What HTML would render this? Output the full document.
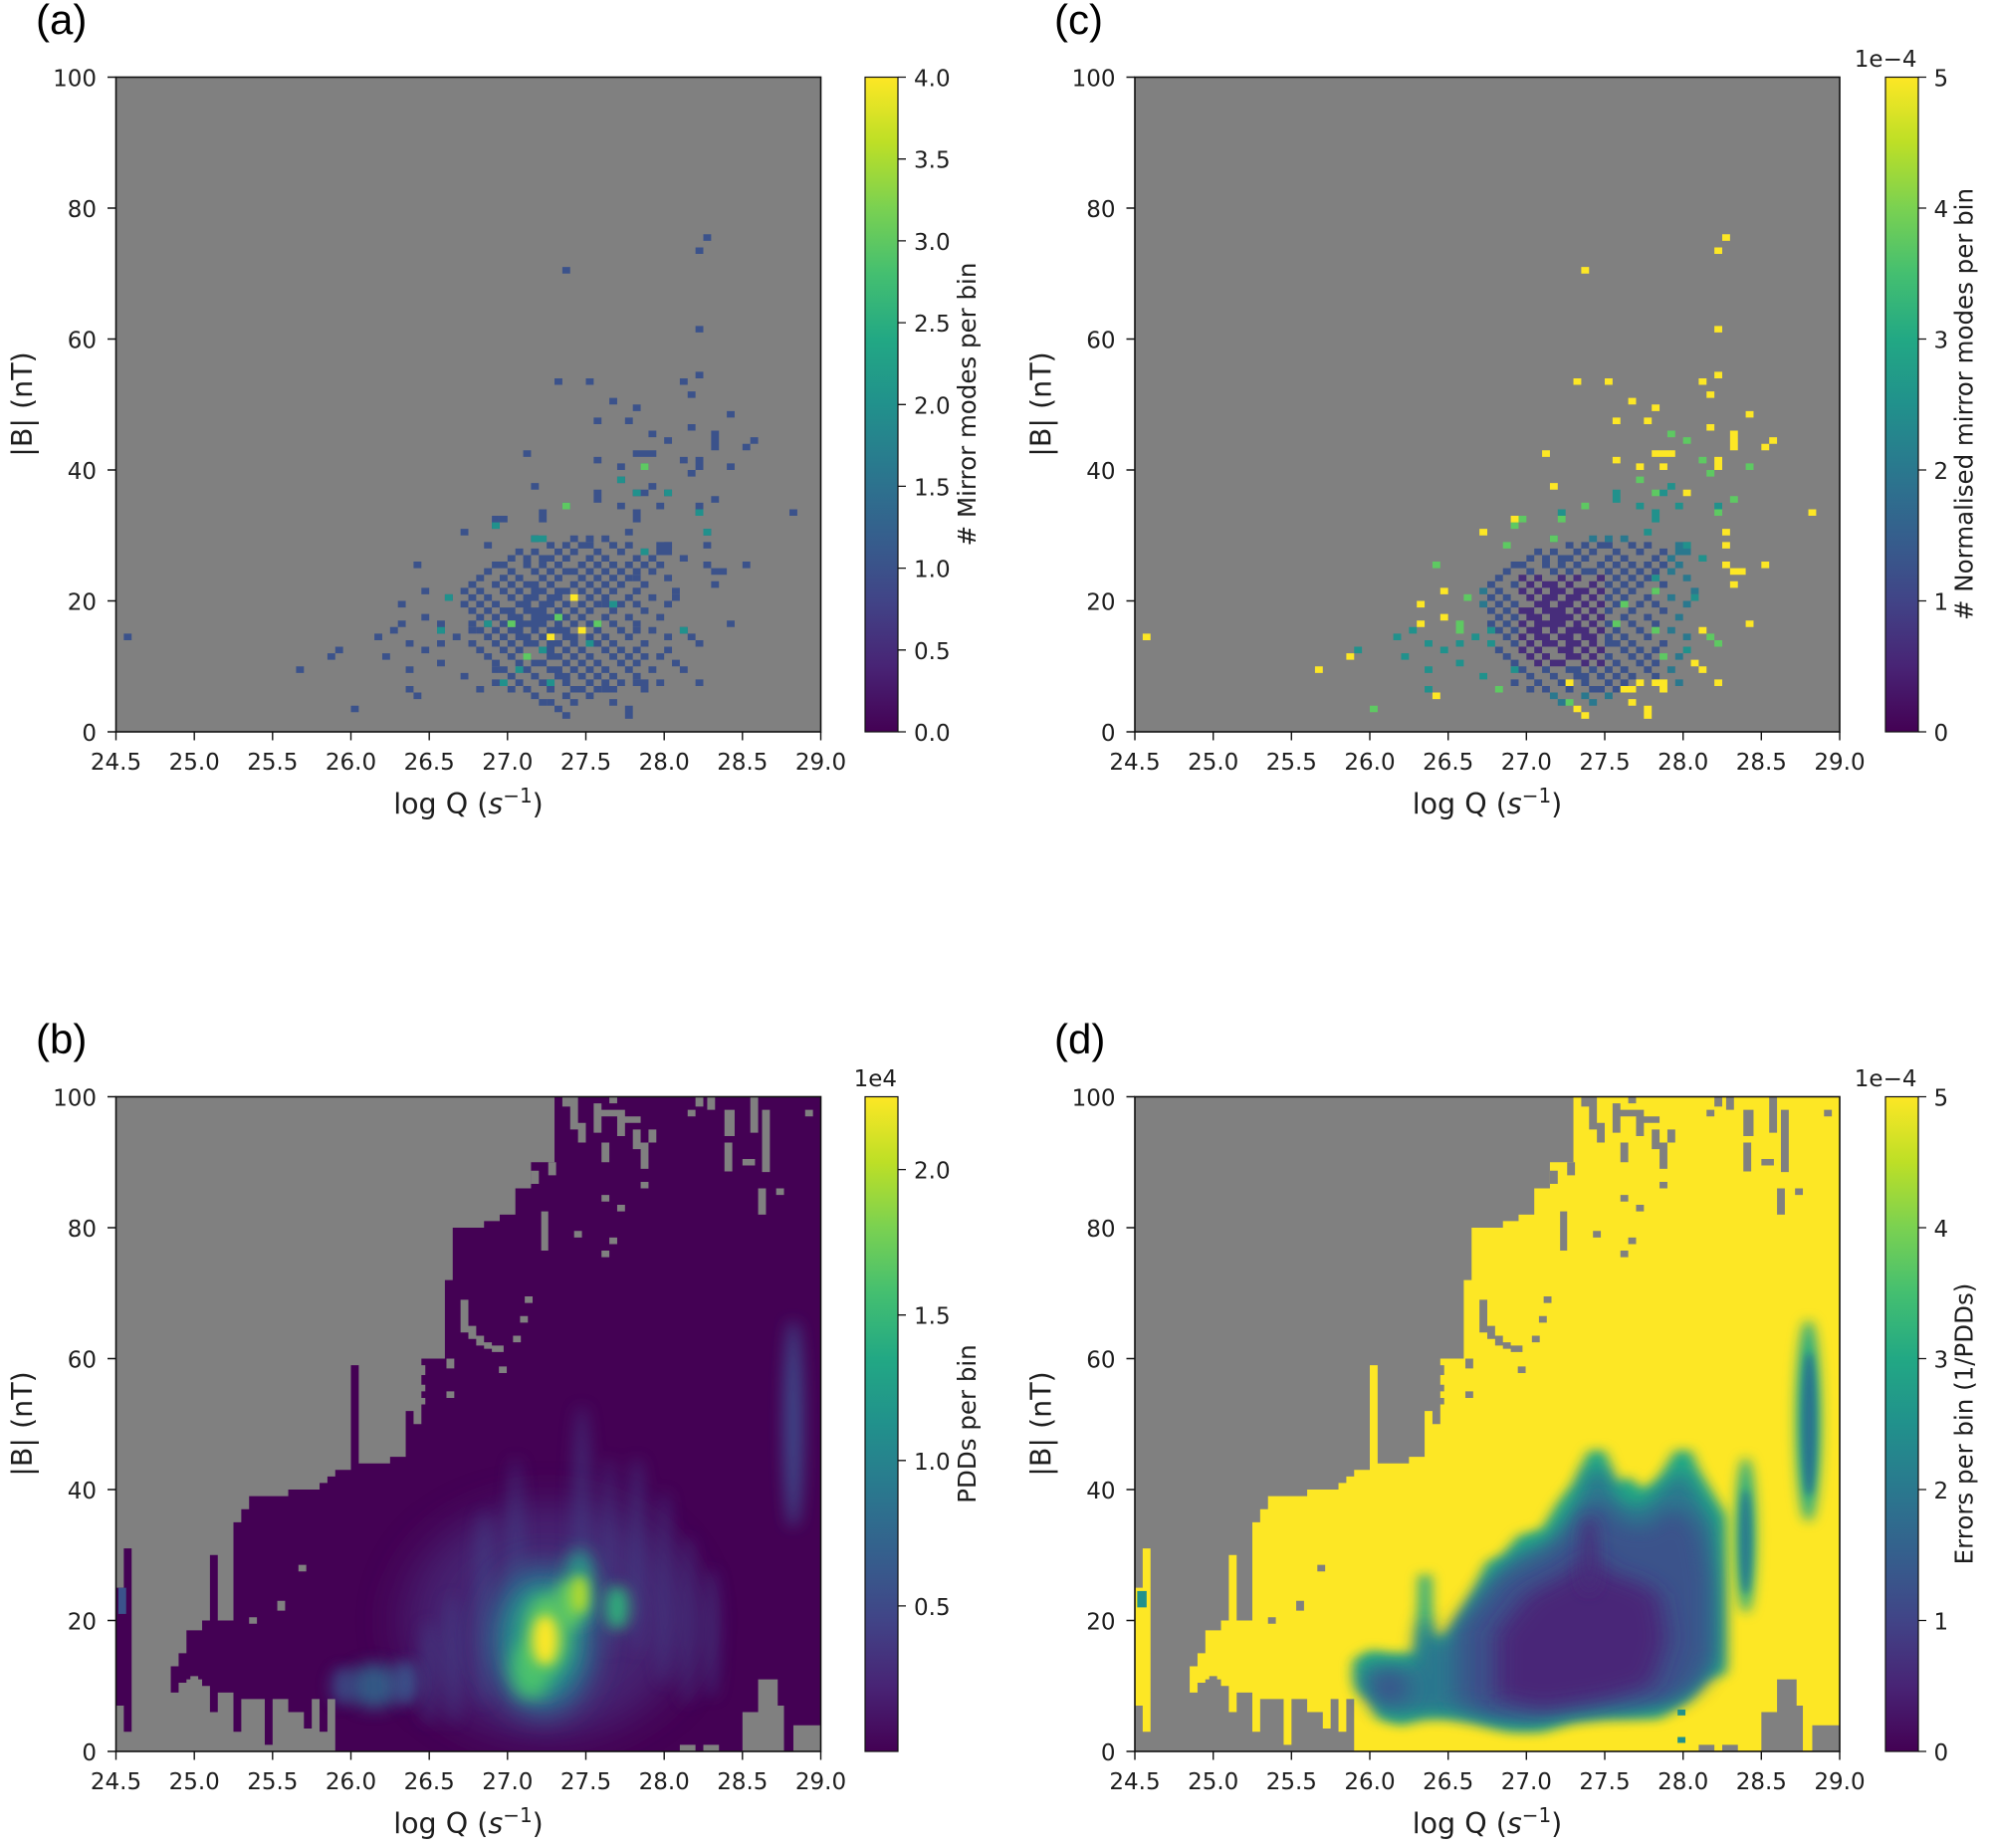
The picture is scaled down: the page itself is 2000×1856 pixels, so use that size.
<!DOCTYPE html>
<html><head><meta charset="utf-8"><style>html,body{margin:0;padding:0;background:#fff}svg{display:block}</style></head><body>
<svg xmlns="http://www.w3.org/2000/svg" width="2000" height="1856" viewBox="0 0 2000 1856" font-family="'DejaVu Sans','Liberation Sans',sans-serif" fill="#1e1e1e">
<defs>
<linearGradient id="vir" x1="0" y1="1" x2="0" y2="0">
<stop offset="0" stop-color="#440154"/><stop offset=".1" stop-color="#482475"/><stop offset=".2" stop-color="#414487"/><stop offset=".3" stop-color="#355f8d"/><stop offset=".4" stop-color="#2a788e"/><stop offset=".5" stop-color="#21918c"/><stop offset=".6" stop-color="#22a884"/><stop offset=".7" stop-color="#44bf70"/><stop offset=".8" stop-color="#7ad151"/><stop offset=".9" stop-color="#bddf26"/><stop offset="1" stop-color="#fde725"/>
</linearGradient>
<filter id="f3" filterUnits="userSpaceOnUse" x="-30" y="-30" width="150" height="160"><feGaussianBlur stdDeviation="3"/></filter>
<filter id="f2" filterUnits="userSpaceOnUse" x="-30" y="-30" width="150" height="160"><feGaussianBlur stdDeviation="2"/></filter>
<filter id="f15" filterUnits="userSpaceOnUse" x="-30" y="-30" width="150" height="160"><feGaussianBlur stdDeviation="1.5"/></filter>
<filter id="f12" filterUnits="userSpaceOnUse" x="-30" y="-30" width="150" height="160"><feGaussianBlur stdDeviation="1.2"/></filter>
<filter id="f1" filterUnits="userSpaceOnUse" x="-30" y="-30" width="150" height="160"><feGaussianBlur stdDeviation="1"/></filter>
<filter id="f08" filterUnits="userSpaceOnUse" x="-30" y="-30" width="150" height="160"><feGaussianBlur stdDeviation="0.8"/></filter>
<filter id="f05" filterUnits="userSpaceOnUse" x="-30" y="-30" width="150" height="160"><feGaussianBlur stdDeviation="0.5"/></filter>

<path id="mk" d="M0 7H1V25H0Z M1 3H2V31H1Z M7 9H8V13H7Z M8 10.5H9V15H8Z M9 11H11V18.5H9Z M11 10H12V20H11Z M12 6H13V30H12Z M13 9H15V20H13Z M15 3H16V35H15Z M16 8H17V37H16Z M17 8H19V39H17Z M19 1H20V39H19Z M20 8H22V39H20Z M22 6H24V40H22Z M24 3.5H25V40H24Z M25 8H26V40H25Z M26 3H27V41H26Z M27 8H28V42H27Z M28 0H30V43H28Z M30 0H31V59H30Z M31 0H35V44H31Z M35 0H37V45H35Z M37 0H38V52H37Z M38 0H39V50H38Z M39 0H42V60H39Z M42 0H43V72H42Z M43 0H47V80H43Z M47 0H49V81H47Z M49 0H51V82H49Z M51 0H53V86H51Z M53 0H56V90H53Z M56 0H90V100H56Z"/>
<path id="hl" d="M72 0h2v1h-2z M75 0h2v1h-2z M80 0h2v6h-2z M82 0h2.5v11h-2.5z M84.5 0h0.8v7h-0.8z M86.5 0h3.5v4h-3.5z M57 98.5h1v1.5h-1z M58 95h1v5h-1z M59 93h1v3h-1z M61 94.5h1v4.5h-1z M62 97h2v1h-2z M63 99h1v1h-1z M64 94h1v4h-1z M65 96h2v1h-2z M66 92h1v3h-1z M67 89h1v4h-1z M68 93h1v2h-1z M62 90h1v3h-1z M67 86h1v1h-1z M62 84h1v1h-1z M64 82.5h1v1h-1z M58.5 78.5h1v1h-1z M63 77.5h1v1h-1z M62 75.5h1v1h-1z M54.3 76.5h0.9v6h-0.9z M55.2 88h1v2h-1z M53 86.7h1v2h-1z M46.8 85.5h1v1h-1z M74 98.5h1v1.5h-1z M75.5 98h1v2h-1z M77.7 94h1.3v4h-1.3z M81 94.5h1v5.5h-1z M82.5 88.5h1v9.5h-1z M77.7 88.6h1v4.4h-1z M80 89.5h1.6v1h-1.6z M82 82h1v4h-1z M73 97h1v1h-1z M88 97h1v1h-1z M84.3 85h1v1h-1z M44 64h1v5h-1z M45 63h1v2h-1z M46 62h1v1.5h-1z M47 61.5h1v1h-1z M48 61h1.5v1h-1.5z M48.9 57.8h1v1h-1z M50.7 62.5h1v1h-1z M51.6 65.5h1v1h-1z M52.2 68.5h1v1h-1z M38.5 55h1v1h-1z M38.5 57.5h1v1.5h-1z M38.5 53h1v1h-1z M42.2 54h1v1h-1z M42.2 58.5h1v1.5h-1z M23.3 27.5h1v1h-1z M20.6 21.5h1v1.5h-1z M17 19.5h1v1h-1z M9.5 10.5h1v1h-1z"/>
<clipPath id="cmk"><use href="#mk"/></clipPath>

<path id="dY" d="M75 75h1v1h-1zM74 73h1v1h-1zM57 70h1v1h-1zM74 61h1v1h-1zM74 54h1v1h-1zM56 53h1v1h-1zM60 53h1v1h-1zM72 53h1v1h-1zM73 51h1v1h-1zM63 50h1v1h-1zM66 49h1v1h-1zM78 48h1v1h-1zM61 47h1v1h-1zM65 47h1v1h-1zM73 46h1v1h-1zM76 43h1v3h-1zM81 44h1v1h-1zM80 43h1v1h-1zM52 42h1v1h-1zM66 42h3v1h-3zM61 41h1v1h-1zM74 40h1v2h-1zM64 40h1v1h-1zM67 40h1v1h-1zM53 37h1v1h-1zM70 36h1v1h-1zM86 33h1v1h-1zM48 32h1v1h-1zM44 30h1v1h-1zM75 30h1v1h-1zM75 28h1v1h-1zM75 25h1v1h-1zM76 24h2v1h-2zM80 25h1v1h-1zM76 22h1v1h-1zM39 21h1v1h-1zM36 19h1v1h-1zM39 17h1v1h-1zM36 16h1v1h-1zM78 16h1v1h-1zM1 14h1v1h-1zM27 11h1v1h-1zM23 9h1v1h-1zM72 15h1v1h-1zM71 10h1v1h-1zM72 9h1v1h-1zM74 7h1v1h-1zM55 7h1v1h-1zM64 7h1v1h-1zM62 6h2v1h-2zM66 7h2v1h-2zM67 6h1v1h-1zM38 5h1v1h-1zM56 3h1v1h-1zM57 2h1v1h-1zM65 2h1v2h-1zM63 4h1v1h-1z"/>
<path id="dG" d="M38 25h1v1h-1zM49 32h1v1h-1zM48 31h1v1h-1zM54 32h1v1h-1zM57 34h1v1h-1zM66 36h1v1h-1zM64 38h1v1h-1zM68 45h1v1h-1zM70 44h1v1h-1zM72 41h1v1h-1zM73 39h1v1h-1zM78 40h1v1h-1zM76 35h1v1h-1zM74 33h1v1h-1zM53 29h1v1h-1zM47 28h1v1h-1zM42 20h1v1h-1zM41 15h1v2h-1zM66 21h1v1h-1zM62 19h1v1h-1zM61 16h1v1h-1zM66 15h1v1h-1zM73 14h1v1h-1zM74 13h1v1h-1zM67 11h1v1h-1zM46 6h1v1h-1zM55 4h1v1h-1zM30 3h1v1h-1z"/>
<path id="dT" d="M61 35h1v2h-1zM67 36h1v1h-1zM68 37h1v1h-1zM69 34h1v1h-1zM66 32h1v2h-1zM74 34h1v1h-1zM64 34h1v1h-1zM54 33h1v1h-1zM37 13h1v1h-1zM39 12h1v1h-1zM41 13h1v1h-1zM43 14h1v1h-1zM45 13h1v1h-1zM41 10h1v1h-1zM37 9h1v1h-1zM33 14h1v1h-1zM28 12h1v1h-1zM37 6h1v1h-1zM45 15h1v1h-1zM66 23h1v1h-1zM70 28h1v1h-1zM72 26h1v1h-1zM44 8h1v1h-1zM48 9h1v1h-1zM70 12h1v1h-1zM71 20h1v1h-1zM35 15h1v1h-1zM34 11h1v1h-1zM65 30h1v1h-1z"/>
<path id="dTc" d="M53 29h1v1h-1zM58 29h1v1h-1zM60 29h1v1h-1zM62 29h1v1h-1zM69 27h2v2h-2zM68 26h1v1h-1zM72 26h1v1h-1zM69 25h1v1h-1zM68 24h1v1h-1zM70 23h1v1h-1zM44 21h1v1h-1zM71 21h1v1h-1zM68 20h1v1h-1zM44 19h1v1h-1zM70 19h1v1h-1zM69 17h1v1h-1zM68 15h1v1h-1zM70 14h1v1h-1zM69 11h1v1h-1zM68 9h1v1h-1zM69 7h1v1h-1zM53 5h1v1h-1zM57 5h1v1h-1zM60 5h1v1h-1zM54 4h1v1h-1zM58 4h1v1h-1z"/>
<path id="dB" d="M55 28h1v1h-1zM57 28h1v1h-1zM59 28h2v1h-2zM63 28h1v1h-1zM65 28h1v1h-1zM51 27h1v1h-1zM53 27h1v1h-1zM56 27h1v1h-1zM58 27h1v1h-1zM61 27h1v1h-1zM64 27h1v1h-1zM67 27h1v1h-1zM50 26h1v1h-1zM52 26h1v1h-1zM54 26h2v1h-2zM57 26h1v1h-1zM60 26h1v1h-1zM62 26h1v1h-1zM66 26h1v1h-1zM48 25h2v1h-2zM52 25h1v1h-1zM54 25h1v1h-1zM56 25h1v1h-1zM59 25h1v1h-1zM61 25h1v1h-1zM63 25h1v1h-1zM65 25h1v1h-1zM67 25h1v1h-1zM47 24h1v1h-1zM50 24h1v1h-1zM53 24h1v1h-1zM55 24h1v1h-1zM57 24h2v1h-2zM60 24h1v1h-1zM62 24h1v1h-1zM64 24h1v1h-1zM66 24h1v1h-1zM46 23h1v1h-1zM61 23h1v1h-1zM63 23h1v1h-1zM65 23h1v1h-1zM45 22h1v1h-1zM48 22h1v1h-1zM60 22h1v1h-1zM62 22h1v1h-1zM64 22h1v1h-1zM67 22h1v1h-1zM46 21h1v1h-1zM61 21h1v1h-1zM63 21h1v1h-1zM66 21h1v1h-1zM45 20h1v1h-1zM47 20h1v1h-1zM60 20h1v1h-1zM62 20h1v1h-1zM65 20h1v1h-1zM46 19h1v1h-1zM48 19h1v1h-1zM61 19h1v1h-1zM64 19h1v1h-1zM66 19h1v1h-1zM45 18h1v1h-1zM47 18h1v1h-1zM60 18h1v1h-1zM63 18h1v1h-1zM67 18h1v1h-1zM46 17h1v1h-1zM48 17h1v1h-1zM62 17h1v1h-1zM65 17h1v1h-1zM45 16h1v1h-1zM47 16h1v1h-1zM60 16h1v1h-1zM63 16h1v1h-1zM66 16h1v1h-1zM46 15h1v1h-1zM48 15h1v1h-1zM61 15h1v1h-1zM64 15h1v1h-1zM47 14h1v1h-1zM60 14h1v1h-1zM62 14h1v1h-1zM65 14h1v1h-1zM48 13h1v1h-1zM60 13h2v1h-2zM63 13h1v1h-1zM67 13h1v1h-1zM46 12h1v1h-1zM62 12h1v1h-1zM64 12h1v1h-1zM66 12h1v1h-1zM47 11h1v1h-1zM60 11h1v1h-1zM63 11h1v1h-1zM65 11h1v1h-1zM48 10h1v1h-1zM61 10h1v1h-1zM64 10h1v1h-1zM66 10h1v1h-1zM49 9h1v1h-1zM52 9h1v1h-1zM55 9h2v1h-2zM58 9h1v1h-1zM60 9h1v1h-1zM62 9h1v1h-1zM65 9h1v1h-1zM50 8h1v1h-1zM53 8h1v1h-1zM56 8h2v1h-2zM59 8h1v1h-1zM61 8h1v1h-1zM63 8h1v1h-1zM66 8h1v1h-1zM48 7h1v1h-1zM51 7h1v1h-1zM54 7h1v1h-1zM57 7h1v1h-1zM60 7h1v1h-1zM62 7h1v1h-1zM50 6h1v1h-1zM52 6h1v1h-1zM55 6h1v1h-1zM58 6h2v1h-2zM61 6h1v1h-1z"/>
<path id="dP" d="M49 23h1v1h-1zM51 23h1v1h-1zM54 23h1v1h-1zM56 23h1v1h-1zM59 23h1v1h-1zM50 22h1v1h-1zM52 22h2v1h-2zM55 22h1v1h-1zM58 22h1v1h-1zM49 21h1v1h-1zM51 21h1v1h-1zM53 21h2v1h-2zM56 21h2v1h-2zM59 21h1v1h-1zM50 20h1v1h-1zM52 20h2v1h-2zM55 20h2v1h-2zM58 20h1v1h-1zM51 19h2v1h-2zM54 19h2v1h-2zM57 19h1v1h-1zM59 19h1v1h-1zM49 18h2v1h-2zM52 18h3v1h-3zM56 18h1v1h-1zM58 18h1v1h-1zM50 17h2v1h-2zM53 17h3v1h-3zM57 17h1v1h-1zM59 17h1v1h-1zM49 16h1v1h-1zM51 16h4v1h-4zM56 16h1v1h-1zM58 16h1v1h-1zM50 15h2v1h-2zM53 15h1v1h-1zM55 15h3v1h-3zM59 15h1v1h-1zM49 14h1v1h-1zM51 14h2v1h-2zM54 14h2v1h-2zM57 14h2v1h-2zM50 13h1v1h-1zM52 13h2v1h-2zM55 13h2v1h-2zM58 13h1v1h-1zM49 12h1v1h-1zM51 12h1v1h-1zM54 12h2v1h-2zM57 12h1v1h-1zM59 12h1v1h-1zM50 11h1v1h-1zM52 11h1v1h-1zM55 11h2v1h-2zM58 11h1v1h-1zM51 10h1v1h-1zM53 10h2v1h-2zM57 10h1v1h-1zM59 10h1v1h-1z"/>
<path id="aY" d="M58 20h1v1h-1zM55 14h1v1h-1zM59 15h1v1h-1z"/>
<path id="aG" d="M67 40h1v1h-1zM52 11h1v1h-1zM56 17h1v1h-1zM61 16h1v1h-1zM57 34h1v1h-1zM50 16h1v1h-1z"/>
<path id="aT" d="M51 9h1v1h-1zM55 7h1v1h-1zM63 19h1v1h-1zM54 29h1v1h-1zM60 13h1v1h-1zM72 15h1v1h-1zM75 30h1v1h-1zM70 36h1v1h-1zM67 27h1v1h-1zM47 16h1v1h-1zM49 7h1v1h-1zM54 12h1v1h-1zM66 36h1v1h-1zM64 38h1v1h-1zM42 20h1v1h-1zM41 15h1v1h-1zM53 29h1v1h-1zM74 33h1v1h-1zM48 31h1v1h-1z"/>
</defs>

<rect width="2000" height="1856" fill="#ffffff"/>

<g font-family="'Liberation Sans',sans-serif" font-size="42" fill="#000">
<text x="36" y="34">(a)</text>
<text x="36" y="1058">(b)</text>
<text x="1059" y="34">(c)</text>
<text x="1059" y="1058">(d)</text>
</g>

<!-- ===== PANEL A ===== -->
<g>
<rect x="116.5" y="77.5" width="708" height="657.5" fill="#808080"/>
<svg x="116.5" y="77.5" width="708" height="657.5" viewBox="0 0 90 100" preserveAspectRatio="none"><g transform="matrix(1 0 0 -1 0 100)">
<g fill="#3b528b"><use href="#dY"/><use href="#dG"/><use href="#dT"/><use href="#dTc"/><use href="#dB"/><use href="#dP"/></g>
<use href="#aT" fill="#21918c"/><use href="#aG" fill="#5ec962"/><use href="#aY" fill="#fde725"/>
</g></svg>
<rect x="116.5" y="77.5" width="708" height="657.5" fill="none" stroke="#111" stroke-width="1.6"/>
<path d="M116.5 735v8.5M195.2 735v8.5M273.8 735v8.5M352.5 735v8.5M431.2 735v8.5M509.8 735v8.5M588.5 735v8.5M667.2 735v8.5M745.8 735v8.5M824.5 735v8.5M116.5 735h-8.5M116.5 603.5h-8.5M116.5 472h-8.5M116.5 340.5h-8.5M116.5 209h-8.5M116.5 77.5h-8.5" stroke="#111" stroke-width="1.4"/>
<g font-size="23" text-anchor="middle"><text x="116.5" y="773">24.5</text><text x="195.2" y="773">25.0</text><text x="273.8" y="773">25.5</text><text x="352.5" y="773">26.0</text><text x="431.2" y="773">26.5</text><text x="509.8" y="773">27.0</text><text x="588.5" y="773">27.5</text><text x="667.2" y="773">28.0</text><text x="745.8" y="773">28.5</text><text x="824.5" y="773">29.0</text></g>
<g font-size="23" text-anchor="end"><text x="97" y="744">0</text><text x="97" y="612.5">20</text><text x="97" y="481">40</text><text x="97" y="349.5">60</text><text x="97" y="218">80</text><text x="97" y="86.5">100</text></g>
<text x="470.5" y="817" font-size="28.5" text-anchor="middle">log Q (<tspan font-style="italic">s</tspan><tspan dy="-11" font-size="20">−1</tspan><tspan dy="11">)</tspan></text>
<text transform="translate(32 406) rotate(-90)" text-anchor="middle" font-size="28.5">|B| (nT)</text>
<rect x="869" y="77.5" width="33" height="657.5" fill="url(#vir)" stroke="#111" stroke-width="1.2"/>
<path d="M902 735h8M902 652.8h8M902 570.6h8M902 488.4h8M902 406.3h8M902 324.1h8M902 241.9h8M902 159.7h8M902 77.5h8" stroke="#111" stroke-width="1.3"/>
<g font-size="23"><text x="918" y="744">0.0</text><text x="918" y="661.8">0.5</text><text x="918" y="579.6">1.0</text><text x="918" y="497.4">1.5</text><text x="918" y="415.3">2.0</text><text x="918" y="333.1">2.5</text><text x="918" y="250.9">3.0</text><text x="918" y="168.7">3.5</text><text x="918" y="86.5">4.0</text></g>
<text transform="translate(980 406) rotate(-90)" text-anchor="middle" font-size="24.5"># Mirror modes per bin</text>
</g>

<!-- ===== PANEL B ===== -->
<g transform="translate(0 1024)">
<rect x="116.5" y="77.5" width="708" height="657.5" fill="#808080"/>
<svg x="116.5" y="77.5" width="708" height="657.5" viewBox="0 0 90 100" preserveAspectRatio="none"><g transform="matrix(1 0 0 -1 0 100)">
<use href="#mk" fill="#440154"/>
<g clip-path="url(#cmk)">
<ellipse cx="55" cy="20" rx="18" ry="18" fill="#46307e" opacity=".7" filter="url(#f3)"/>
<g fill="#3f4788" opacity=".55" filter="url(#f1)">
<ellipse cx="40" cy="12" rx="1" ry="8"/>
<ellipse cx="43" cy="14" rx="1" ry="10"/>
<ellipse cx="47" cy="22" rx="1.2" ry="15"/>
<ellipse cx="51" cy="28" rx="1" ry="17"/>
<ellipse cx="59.5" cy="35" rx="1.2" ry="18"/>
<ellipse cx="63" cy="30" rx="1" ry="15"/>
<ellipse cx="66.5" cy="30" rx="1.2" ry="15"/>
<ellipse cx="70" cy="25" rx="1" ry="15"/>
<ellipse cx="73" cy="20" rx="1" ry="13"/>
<ellipse cx="76" cy="18" rx="1" ry="10"/>
</g>
<ellipse cx="33" cy="10" rx="3.5" ry="3.5" fill="#31688e" opacity=".85" filter="url(#f12)"/>
<ellipse cx="29" cy="10" rx="1.5" ry="3" fill="#3b528b" opacity=".8" filter="url(#f1)"/>
<ellipse cx="37" cy="10.5" rx="1.5" ry="3.5" fill="#3b528b" filter="url(#f1)"/>
<ellipse cx="86.5" cy="50" rx="1.2" ry="16" fill="#3e4c8a" filter="url(#f1)"/>
<ellipse cx="54.5" cy="17" rx="7" ry="12" fill="#33638d" filter="url(#f2)"/>
<ellipse cx="54.5" cy="17" rx="4.8" ry="8.5" fill="#21918c" filter="url(#f15)"/>
<ellipse cx="59.2" cy="25" rx="2" ry="6" fill="#2a9a89" filter="url(#f12)"/>
<ellipse cx="64" cy="22" rx="1.5" ry="3.5" fill="#2fb47c" filter="url(#f1)"/>
<ellipse cx="53" cy="12.5" rx="2.5" ry="4.5" fill="#4ac16d" filter="url(#f12)"/>
<ellipse cx="55" cy="18" rx="2.8" ry="6" fill="#5ec962" filter="url(#f12)"/>
<ellipse cx="57.8" cy="22.5" rx="1.8" ry="3.8" fill="#5ec962" filter="url(#f1)"/>
<ellipse cx="59.2" cy="24" rx="1" ry="3" fill="#bddf26" filter="url(#f08)"/>
<ellipse cx="54.8" cy="17" rx="1.6" ry="3.8" fill="#fde725" filter="url(#f08)"/>
<rect x="0.3" y="21" width="1" height="4" fill="#3b528b"/>
</g>
<use href="#hl" fill="#808080"/>
</g></svg>
<rect x="116.5" y="77.5" width="708" height="657.5" fill="none" stroke="#111" stroke-width="1.6"/>
<path d="M116.5 735v8.5M195.2 735v8.5M273.8 735v8.5M352.5 735v8.5M431.2 735v8.5M509.8 735v8.5M588.5 735v8.5M667.2 735v8.5M745.8 735v8.5M824.5 735v8.5M116.5 735h-8.5M116.5 603.5h-8.5M116.5 472h-8.5M116.5 340.5h-8.5M116.5 209h-8.5M116.5 77.5h-8.5" stroke="#111" stroke-width="1.4"/>
<g font-size="23" text-anchor="middle"><text x="116.5" y="773">24.5</text><text x="195.2" y="773">25.0</text><text x="273.8" y="773">25.5</text><text x="352.5" y="773">26.0</text><text x="431.2" y="773">26.5</text><text x="509.8" y="773">27.0</text><text x="588.5" y="773">27.5</text><text x="667.2" y="773">28.0</text><text x="745.8" y="773">28.5</text><text x="824.5" y="773">29.0</text></g>
<g font-size="23" text-anchor="end"><text x="97" y="744">0</text><text x="97" y="612.5">20</text><text x="97" y="481">40</text><text x="97" y="349.5">60</text><text x="97" y="218">80</text><text x="97" y="86.5">100</text></g>
<text x="470.5" y="817" font-size="28.5" text-anchor="middle">log Q (<tspan font-style="italic">s</tspan><tspan dy="-11" font-size="20">−1</tspan><tspan dy="11">)</tspan></text>
<text transform="translate(32 406) rotate(-90)" text-anchor="middle" font-size="28.5">|B| (nT)</text>
<rect x="869" y="77.5" width="33" height="657.5" fill="url(#vir)" stroke="#111" stroke-width="1.2"/>
<path d="M902 588.9h8M902 442.8h8M902 296.7h8M902 150.6h8" stroke="#111" stroke-width="1.3"/>
<g font-size="23"><text x="918" y="597.9">0.5</text><text x="918" y="451.8">1.0</text><text x="918" y="305.7">1.5</text><text x="918" y="159.6">2.0</text></g>
<text x="901" y="67" font-size="23" text-anchor="end">1e4</text>
<text transform="translate(980 406) rotate(-90)" text-anchor="middle" font-size="24.5">PDDs per bin</text>
</g>

<!-- ===== PANEL C ===== -->
<g transform="translate(1023.5 0)">
<rect x="116.5" y="77.5" width="708" height="657.5" fill="#808080"/>
<svg x="116.5" y="77.5" width="708" height="657.5" viewBox="0 0 90 100" preserveAspectRatio="none"><g transform="matrix(1 0 0 -1 0 100)">
<use href="#dP" fill="#472d7b"/>
<use href="#dB" fill="#3b528b"/>
<use href="#dTc" fill="#2a788e"/>
<use href="#dT" fill="#21918c"/>
<use href="#dG" fill="#5ec962"/>
<use href="#dY" fill="#fde725"/>
</g></svg>
<rect x="116.5" y="77.5" width="708" height="657.5" fill="none" stroke="#111" stroke-width="1.6"/>
<path d="M116.5 735v8.5M195.2 735v8.5M273.8 735v8.5M352.5 735v8.5M431.2 735v8.5M509.8 735v8.5M588.5 735v8.5M667.2 735v8.5M745.8 735v8.5M824.5 735v8.5M116.5 735h-8.5M116.5 603.5h-8.5M116.5 472h-8.5M116.5 340.5h-8.5M116.5 209h-8.5M116.5 77.5h-8.5" stroke="#111" stroke-width="1.4"/>
<g font-size="23" text-anchor="middle"><text x="116.5" y="773">24.5</text><text x="195.2" y="773">25.0</text><text x="273.8" y="773">25.5</text><text x="352.5" y="773">26.0</text><text x="431.2" y="773">26.5</text><text x="509.8" y="773">27.0</text><text x="588.5" y="773">27.5</text><text x="667.2" y="773">28.0</text><text x="745.8" y="773">28.5</text><text x="824.5" y="773">29.0</text></g>
<g font-size="23" text-anchor="end"><text x="97" y="744">0</text><text x="97" y="612.5">20</text><text x="97" y="481">40</text><text x="97" y="349.5">60</text><text x="97" y="218">80</text><text x="97" y="86.5">100</text></g>
<text x="470.5" y="817" font-size="28.5" text-anchor="middle">log Q (<tspan font-style="italic">s</tspan><tspan dy="-11" font-size="20">−1</tspan><tspan dy="11">)</tspan></text>
<text transform="translate(32 406) rotate(-90)" text-anchor="middle" font-size="28.5">|B| (nT)</text>
<rect x="870.5" y="77.5" width="33" height="657.5" fill="url(#vir)" stroke="#111" stroke-width="1.2"/>
<path d="M903.5 735h8M903.5 603.5h8M903.5 472h8M903.5 340.5h8M903.5 209h8M903.5 77.5h8" stroke="#111" stroke-width="1.3"/>
<g font-size="23"><text x="919" y="744">0</text><text x="919" y="612.5">1</text><text x="919" y="481">2</text><text x="919" y="349.5">3</text><text x="919" y="218">4</text><text x="919" y="86.5">5</text></g>
<text x="902" y="67" font-size="23" text-anchor="end">1e−4</text>
<text transform="translate(958 406) rotate(-90)" text-anchor="middle" font-size="24.5"># Normalised mirror modes per bin</text>
</g>

<!-- ===== PANEL D ===== -->
<g transform="translate(1023.5 1024)">
<rect x="116.5" y="77.5" width="708" height="657.5" fill="#808080"/>
<svg x="116.5" y="77.5" width="708" height="657.5" viewBox="0 0 90 100" preserveAspectRatio="none"><g transform="matrix(1 0 0 -1 0 100)">
<use href="#mk" fill="#fde725"/>
<path d="M27.9 11 L27.9 14 30 15.5 33 15 36 15 36.3 27 37.8 27 38 17 40 18 42 22 43.5 25 45 29 47 30 49 33 52 34 54 38 56 41 58 46 60 46 61.5 41 63 42 65 40 67 42 69 46 71 46 72 43 73.5 40 75.5 36 75.5 12 73 11 71 8 69 6.5 67 5 64 5 60 5 56 4.5 52 3 48 3 46 3.5 43 4.5 40 5 37 5 34 4 31 5 30 8 28.5 9Z" fill="#22a884" filter="url(#f08)"/>
<path d="M29 10 L29 13 33 13.5 35.5 13 36.5 20 37.5 20 39 16 42 20 45 26 49 30.5 53 32 56 37 58 43 60 43 62 38 65 37.5 68 41 70 43 72 39 74 35 74.5 13 72 10 69 7.5 64 6 56 5.5 50 4 44 5 39 6 33 5.5 31 6.5Z" fill="#2a788e" filter="url(#f12)"/>
<path d="M30.5 7.5 L30.5 12 34 12 35 9.5 34 7.5Z M41 8 L41 19 44 23 47 27 52 30 55 33 58 38 60 38 62 35 65 34 68 37 70 37 72.5 33 73.5 26 73.5 15 71.5 10 68 7.5 60 7 52 5.5 46 5.5 43 6.5Z" fill="#3b528b" filter="url(#f15)"/>
<path d="M46 8 L46 18 50 24 55 27 58 30 61 27 64 26 67 24 68 17 66 10 60 8 52 6.5Z" fill="#482878" filter="url(#f15)"/>
<ellipse cx="58" cy="30" rx="1" ry="6" fill="#472d7b" filter="url(#f1)"/>
<ellipse cx="78" cy="33" rx="1.3" ry="12" fill="#22a884" filter="url(#f08)"/>
<ellipse cx="78" cy="32" rx="0.7" ry="8" fill="#2a788e" filter="url(#f05)"/>
<ellipse cx="86" cy="50.5" rx="1.6" ry="15.5" fill="#22a884" filter="url(#f08)"/>
<ellipse cx="86.1" cy="50" rx="0.9" ry="11" fill="#2c728e" filter="url(#f05)"/>
<rect x="0.3" y="22" width="1.2" height="2.5" fill="#21918c"/>
<rect x="69.3" y="5.5" width="1" height="0.9" fill="#21918c"/>
<rect x="69.3" y="1.3" width="1" height="0.9" fill="#21918c"/>
<use href="#hl" fill="#808080"/>
</g></svg>
<rect x="116.5" y="77.5" width="708" height="657.5" fill="none" stroke="#111" stroke-width="1.6"/>
<path d="M116.5 735v8.5M195.2 735v8.5M273.8 735v8.5M352.5 735v8.5M431.2 735v8.5M509.8 735v8.5M588.5 735v8.5M667.2 735v8.5M745.8 735v8.5M824.5 735v8.5M116.5 735h-8.5M116.5 603.5h-8.5M116.5 472h-8.5M116.5 340.5h-8.5M116.5 209h-8.5M116.5 77.5h-8.5" stroke="#111" stroke-width="1.4"/>
<g font-size="23" text-anchor="middle"><text x="116.5" y="773">24.5</text><text x="195.2" y="773">25.0</text><text x="273.8" y="773">25.5</text><text x="352.5" y="773">26.0</text><text x="431.2" y="773">26.5</text><text x="509.8" y="773">27.0</text><text x="588.5" y="773">27.5</text><text x="667.2" y="773">28.0</text><text x="745.8" y="773">28.5</text><text x="824.5" y="773">29.0</text></g>
<g font-size="23" text-anchor="end"><text x="97" y="744">0</text><text x="97" y="612.5">20</text><text x="97" y="481">40</text><text x="97" y="349.5">60</text><text x="97" y="218">80</text><text x="97" y="86.5">100</text></g>
<text x="470.5" y="817" font-size="28.5" text-anchor="middle">log Q (<tspan font-style="italic">s</tspan><tspan dy="-11" font-size="20">−1</tspan><tspan dy="11">)</tspan></text>
<text transform="translate(32 406) rotate(-90)" text-anchor="middle" font-size="28.5">|B| (nT)</text>
<rect x="870.5" y="77.5" width="33" height="657.5" fill="url(#vir)" stroke="#111" stroke-width="1.2"/>
<path d="M903.5 735h8M903.5 603.5h8M903.5 472h8M903.5 340.5h8M903.5 209h8M903.5 77.5h8" stroke="#111" stroke-width="1.3"/>
<g font-size="23"><text x="919" y="744">0</text><text x="919" y="612.5">1</text><text x="919" y="481">2</text><text x="919" y="349.5">3</text><text x="919" y="218">4</text><text x="919" y="86.5">5</text></g>
<text x="902" y="67" font-size="23" text-anchor="end">1e−4</text>
<text transform="translate(958 406) rotate(-90)" text-anchor="middle" font-size="24.5">Errors per bin (1/PDDs)</text>
</g>
</svg>
</body></html>
